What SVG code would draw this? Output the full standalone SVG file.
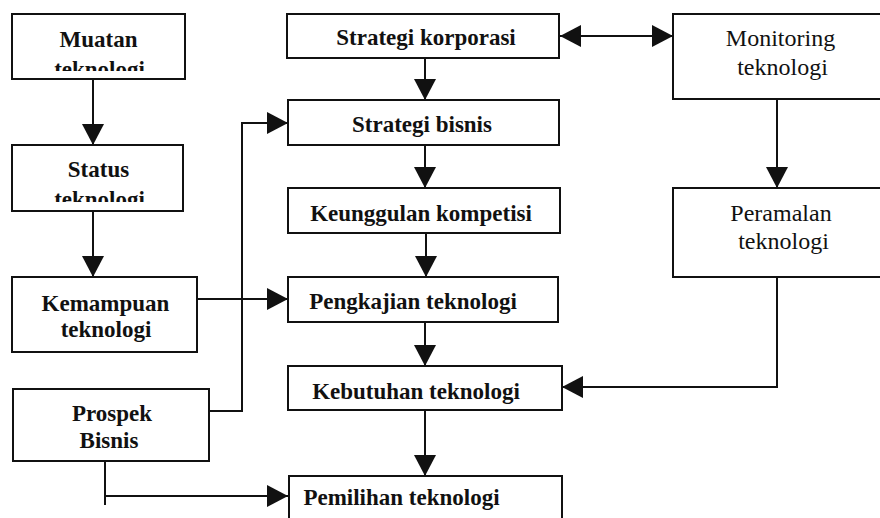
<svg xmlns="http://www.w3.org/2000/svg" width="880" height="518" viewBox="0 0 880 518">
  <style>
    .box { fill: #fff; stroke: #111; stroke-width: 2; }
    .c { fill: none; stroke: #111; stroke-width: 2; }
  </style>
  <defs>
    <marker id="ah" markerUnits="userSpaceOnUse" markerWidth="21" markerHeight="22" refX="21" refY="11" orient="auto-start-reverse">
      <path d="M0,0 L21,11 L0,22 z" fill="#111"/>
    </marker>
    <clipPath id="clipMuatan"><rect x="12" y="14" width="173" height="57"/></clipPath>
    <clipPath id="clipStatus"><rect x="12" y="145" width="171" height="57"/></clipPath>
  </defs>
  <rect width="880" height="518" fill="#fff"/>

  <g id="connectors">
    <path class="c" d="M93,79 V145" marker-end="url(#ah)"/>
    <path class="c" d="M93,211 V277" marker-end="url(#ah)"/>
    <path class="c" d="M197,299 H288" marker-end="url(#ah)"/>
    <path class="c" d="M209,411 H242 V123 H288" marker-end="url(#ah)"/>
    <path class="c" d="M105,461 V505"/>
    <path class="c" d="M105,496 H288" marker-end="url(#ah)"/>
    <path class="c" d="M560,36 H673" marker-start="url(#ah)" marker-end="url(#ah)"/>
    <path class="c" d="M425,58 V100" marker-end="url(#ah)"/>
    <path class="c" d="M425,145 V188" marker-end="url(#ah)"/>
    <path class="c" d="M426,233 V277" marker-end="url(#ah)"/>
    <path class="c" d="M425,322 V366" marker-end="url(#ah)"/>
    <path class="c" d="M425,410 V476" marker-end="url(#ah)"/>
    <path class="c" d="M777,99 V188" marker-end="url(#ah)"/>
    <path class="c" d="M777,277 V387 H562" marker-end="url(#ah)"/>
  </g>

  <g font-family="Liberation Serif" fill="#111" text-anchor="middle">
  <g font-weight="bold" font-size="23">
  <g id="muatan">
    <rect class="box" x="12" y="14" width="173" height="65"/>
    <text x="98.5" y="47">Muatan</text>
    <text x="99.5" y="77" clip-path="url(#clipMuatan)">teknologi</text>
  </g>
  <g id="status">
    <rect class="box" x="12" y="145" width="171" height="66"/>
    <text x="98.5" y="177">Status</text>
    <text x="99.5" y="207" clip-path="url(#clipStatus)">teknologi</text>
  </g>
  <g id="kemampuan">
    <rect class="box" x="12" y="277" width="185" height="75"/>
    <text x="105.5" y="311">Kemampuan</text>
    <text x="106" y="337">teknologi</text>
  </g>
  <g id="prospek">
    <rect class="box" x="13" y="389" width="196" height="72"/>
    <text x="112" y="421">Prospek</text>
    <text x="109" y="448">Bisnis</text>
  </g>

  <g id="strategi-korporasi">
    <rect class="box" x="287" y="14" width="272" height="44"/>
    <text x="426" y="45">Strategi korporasi</text>
  </g>
  <g id="strategi-bisnis">
    <rect class="box" x="288" y="100" width="271" height="45"/>
    <text x="422" y="132">Strategi bisnis</text>
  </g>
  <g id="keunggulan">
    <rect class="box" x="288" y="188" width="272" height="45"/>
    <text x="421" y="221">Keunggulan kompetisi</text>
  </g>
  <g id="pengkajian">
    <rect class="box" x="288" y="277" width="270" height="45"/>
    <text x="413" y="309">Pengkajian teknologi</text>
  </g>
  <g id="kebutuhan">
    <rect class="box" x="288" y="366" width="274" height="44"/>
    <text x="416" y="399">Kebutuhan teknologi</text>
  </g>
  <g id="pemilihan">
    <rect class="box" x="289" y="476" width="273" height="48"/>
    <text x="401.5" y="505">Pemilihan teknologi</text>
  </g>
  </g>

  <g font-size="24">
  <g id="monitoring">
    <rect class="box" x="673" y="14" width="215" height="85"/>
    <text x="780.5" y="46">Monitoring</text>
    <text x="782.5" y="75">teknologi</text>
  </g>
  <g id="peramalan">
    <rect class="box" x="673" y="188" width="215" height="89"/>
    <text x="781" y="221">Peramalan</text>
    <text x="783.5" y="249">teknologi</text>
  </g>
  </g>
  </g>
</svg>
